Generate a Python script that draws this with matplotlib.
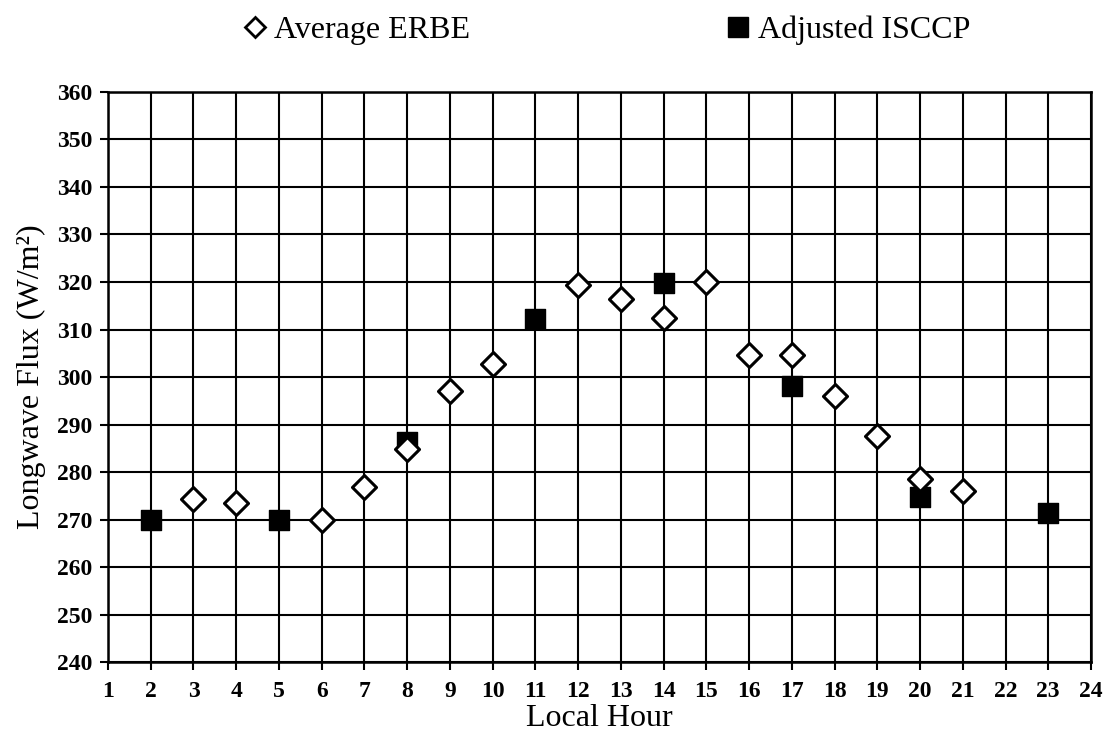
import matplotlib
matplotlib.use('Agg')
import matplotlib.pyplot as plt
from matplotlib.lines import Line2D

# values
erbe_hours = [3, 4, 6, 7, 8, 9, 10, 12, 13, 14, 15, 16, 17, 18, 19, 20, 21]
erbe_flux = [274.3, 273.4, 270.0, 276.8, 284.8, 297.1, 302.8, 319.4, 316.4,
             312.5, 320.0, 304.6, 304.6, 296.0, 287.5, 278.6, 276.0]

isccp_hours = [2, 5, 8, 11, 14, 17, 20, 23]
isccp_flux = [270.0, 270.0, 286.3, 312.3, 319.8, 298.2, 274.8, 271.3]

x_ticks = list(range(1, 25))
y_ticks = list(range(240, 361, 10))

plt.rcParams['font.family'] = ['Liberation Serif', 'DejaVu Serif']

fig = plt.figure(figsize=(11.12, 7.49), dpi=100)
ax = fig.add_axes([0.0971, 0.1161, 0.8840, 0.7611])

ax.scatter(isccp_hours, isccp_flux, marker='s', s=210, color='black', zorder=3)
ax.scatter(erbe_hours, erbe_flux, marker='D', s=150, facecolor='white',
           edgecolor='black', linewidths=2.2, zorder=4)

ax.set_xlim(1, 24)
ax.set_ylim(240, 360)
ax.set_xticks(x_ticks)
ax.set_yticks(y_ticks)
ax.grid(True, color='black', linewidth=1.5)
ax.set_axisbelow(True)
for sp in ax.spines.values():
    sp.set_linewidth(1.8)
ax.tick_params(direction='out', length=6, width=1.5, labelsize=17, pad=5)
ax.tick_params(axis='x', pad=8)
for lbl in ax.get_xticklabels() + ax.get_yticklabels():
    lbl.set_fontweight('bold')

ax.set_xlabel('Local Hour', fontsize=23, labelpad=1)
ax.set_ylabel('Longwave Flux (W/m²)', fontsize=23, labelpad=8)

handles = [
    Line2D([], [], marker='D', linestyle='none', markersize=10, markerfacecolor='white',
           markeredgecolor='black', markeredgewidth=2.0, label='Average ERBE'),
    Line2D([], [], marker='s', linestyle='none', markersize=14, color='black',
           label='Adjusted ISCCP'),
]
fig.legend(handles=handles, loc='upper center', bbox_to_anchor=(0.545, 1.018), ncol=2,
           frameon=False, fontsize=23, columnspacing=8.0, handletextpad=0.2,
           handlelength=0.8)

fig.savefig('out.png', dpi=100)
